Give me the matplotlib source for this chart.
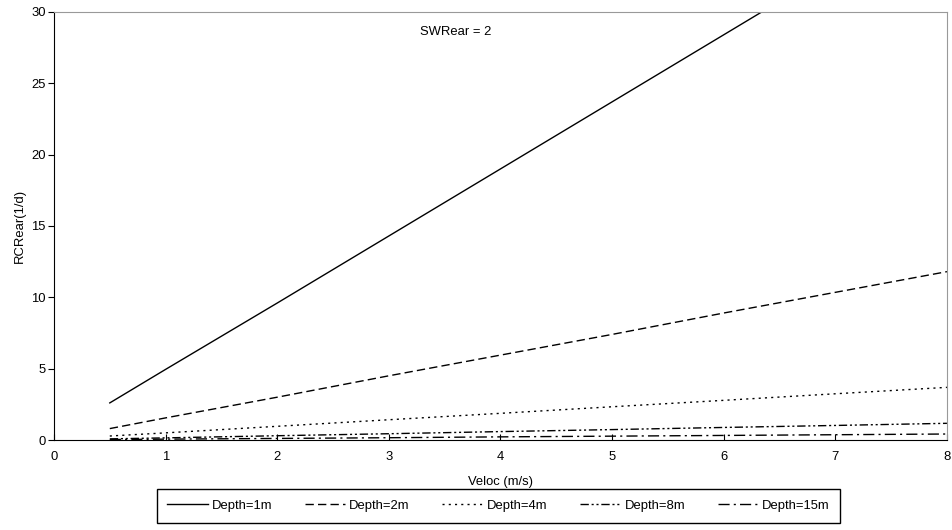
import matplotlib

matplotlib.use("Agg")
import matplotlib.pyplot as plt  # noqa: E402

plt.rcParams["font.family"] = ["Liberation Sans", "DejaVu Sans"]
plt.rcParams["font.size"] = 9.4

# velocity (m/s) and RCRear (1/d) per depth
veloc = [0.5, 1, 2, 3, 4, 5, 6, 7, 8]
depth_1m = [2.6, 4.95, 9.6, 14.3, 19.0, 23.7, 28.4, 33.1, 37.8]
depth_2m = [0.8, 1.55, 3.0, 4.5, 5.95, 7.4, 8.9, 10.35, 11.8]
depth_4m = [0.28, 0.5, 0.96, 1.42, 1.87, 2.33, 2.78, 3.24, 3.69]
depth_8m = [0.08, 0.15, 0.3, 0.44, 0.59, 0.73, 0.88, 1.02, 1.17]
depth_15m = [0.03, 0.06, 0.11, 0.16, 0.22, 0.27, 0.32, 0.37, 0.42]
labels = ["Depth=1m", "Depth=2m", "Depth=4m", "Depth=8m", "Depth=15m"]

series = [depth_1m, depth_2m, depth_4m, depth_8m, depth_15m]
styles = ["-", (0, (6, 3)), (0, (1.5, 3)), (0, (6, 2, 1.5, 2, 1.5, 2)), (0, (8, 3, 1.5, 3))]

fig = plt.figure(figsize=(9.52, 5.30), dpi=100)
ax = fig.add_axes([0.0567, 0.1698, 0.938, 0.8076])

for ys, ls, lab in zip(series, styles, labels):
    ax.plot(veloc, ys, color="black", lw=1.0, linestyle=ls, label=lab)

ax.set_xlim(0, 8)
ax.set_ylim(0, 30)
ax.set_xticks(range(0, 9))
ax.set_yticks(range(0, 31, 5))
ax.tick_params(axis="x", direction="in", length=4, pad=8)
ax.tick_params(axis="y", direction="out", length=4, pad=2)
for side in ("top", "right"):
    ax.spines[side].set_color("#999999")
for side in ("left", "bottom"):
    ax.spines[side].set_color("black")

ax.set_xlabel("Veloc (m/s)", labelpad=9)
ax.set_ylabel("RCRear(1/d)", labelpad=4)
ax.text(3.6, 28.6, "SWRear = 2", ha="center", va="center", fontsize=9.4)

fig.legend(
    loc="center",
    bbox_to_anchor=(0.5237, 0.0453),
    ncol=5,
    frameon=True,
    fancybox=False,
    edgecolor="black",
    framealpha=1,
    handlelength=3.1,
    handletextpad=0.3,
    columnspacing=2.5,
    borderpad=0.8,
)

fig.savefig("out.png", dpi=100)
